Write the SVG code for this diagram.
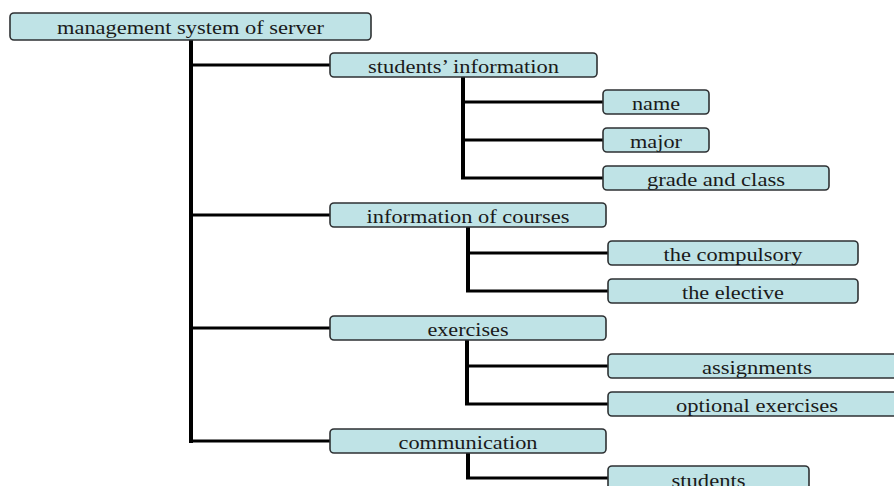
<svg xmlns="http://www.w3.org/2000/svg" width="894" height="486" viewBox="0 0 894 486">
<style>
.box{fill:#bfe3e6;stroke:#2e3133;stroke-width:1.6}
.t{font-family:"Liberation Serif","Times New Roman",serif;font-size:19px;fill:#1a1a1a;text-anchor:middle}
.c{fill:none;stroke:#000;stroke-linejoin:miter;stroke-linecap:butt}
.main{stroke-width:4}
.br{stroke-width:3}
</style>
<rect width="894" height="486" fill="#ffffff"/>
<g id="connectors">
<path class="c main" d="M191 40 V443"/>
<path class="c br" d="M191 65 H331 M191 215 H331 M191 328 H331 M189 441 H331"/>
<path class="c main" d="M463 77 V179"/>
<path class="c br" d="M463 102 H604 M463 140 H604 M461 178 H604"/>
<path class="c main" d="M468 227 V292"/>
<path class="c br" d="M468 253 H609 M466 291 H609"/>
<path class="c main" d="M467 340 V405"/>
<path class="c br" d="M467 366 H609 M465 404 H609"/>
<path class="c main" d="M468 453 V479"/>
<path class="c br" d="M466 478 H609"/>
</g>
<g id="root"><rect class="box" x="10" y="13" width="361" height="27" rx="4"/><text class="t" x="190.5" y="34" textLength="267" lengthAdjust="spacingAndGlyphs">management system of server</text></g>
<g id="students-information"><rect class="box" x="330" y="53" width="267" height="24" rx="4"/><text class="t" x="463.5" y="73" textLength="191" lengthAdjust="spacingAndGlyphs">students’ information</text></g>
<g id="information-of-courses"><rect class="box" x="330" y="203" width="276" height="24" rx="4"/><text class="t" x="468" y="223" textLength="203" lengthAdjust="spacingAndGlyphs">information of courses</text></g>
<g id="exercises"><rect class="box" x="330" y="316" width="276" height="24" rx="4"/><text class="t" x="468" y="336" textLength="81" lengthAdjust="spacingAndGlyphs">exercises</text></g>
<g id="communication"><rect class="box" x="330" y="429" width="276" height="24" rx="4"/><text class="t" x="468" y="449" textLength="139" lengthAdjust="spacingAndGlyphs">communication</text></g>
<g id="name"><rect class="box" x="603" y="90" width="106" height="24" rx="4"/><text class="t" x="656" y="110" textLength="48" lengthAdjust="spacingAndGlyphs">name</text></g>
<g id="major"><rect class="box" x="603" y="128" width="106" height="24" rx="4"/><text class="t" x="656" y="148" textLength="52" lengthAdjust="spacingAndGlyphs">major</text></g>
<g id="grade-and-class"><rect class="box" x="603" y="166" width="226" height="24" rx="4"/><text class="t" x="716" y="186" textLength="138" lengthAdjust="spacingAndGlyphs">grade and class</text></g>
<g id="the-compulsory"><rect class="box" x="608" y="241" width="250" height="24" rx="4"/><text class="t" x="733" y="261" textLength="139" lengthAdjust="spacingAndGlyphs">the compulsory</text></g>
<g id="the-elective"><rect class="box" x="608" y="279" width="250" height="24" rx="4"/><text class="t" x="733" y="299" textLength="102" lengthAdjust="spacingAndGlyphs">the elective</text></g>
<g id="assignments"><rect class="box" x="608" y="354" width="300" height="24" rx="4"/><text class="t" x="757" y="374" textLength="110" lengthAdjust="spacingAndGlyphs">assignments</text></g>
<g id="optional-exercises"><rect class="box" x="608" y="392" width="300" height="24" rx="4"/><text class="t" x="757" y="412" textLength="162" lengthAdjust="spacingAndGlyphs">optional exercises</text></g>
<g id="students"><rect class="box" x="608" y="466" width="201" height="24" rx="4"/><text class="t" x="708.5" y="487" textLength="74" lengthAdjust="spacingAndGlyphs">students</text></g>
</svg>
